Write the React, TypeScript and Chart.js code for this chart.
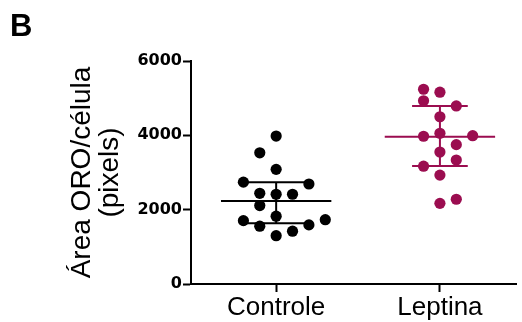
import React, { useEffect, useRef } from "react";
import { Chart, registerables } from "chart.js";

Chart.register(...registerables);

const categories = ["Controle", "Leptina"];
const controleValues = [3980, 3530, 3085, 2740, 2690, 2440, 2415, 2415, 2110, 1825, 1705, 1730, 1555, 1590, 1420, 1300];
const controleColumns = [0, -1, 0, -2, 2, -1, 0, 1, -1, 0, -2, 3, -1, 2, 1, 0];
const leptinaValues = [5240, 5160, 4930, 4790, 4500, 3975, 4054, 3990, 3750, 3550, 3336, 3170, 2930, 2280, 2170];
const leptinaColumns = [-1, 0, -1, 1, 0, -1, 0, 2, 1, 0, 1, -1, 0, 1, 0];
const means = [2233, 3964];
const upperBars = [2736, 4789];
const lowerBars = [1633, 3175];
const yTicks = [0, 2000, 4000, 6000];

const colors = ["#000000", "#9b0d50"];
const COL_STEP = 0.1;
const MEAN_HALF = 0.337;
const CAP_HALF = [0.2, 0.17];

const panelLabel = {
  id: "panelLabel",
  afterDraw(chart: any) {
    const ctx = chart.ctx;
    ctx.save();
    ctx.font = "bold 31px 'Liberation Sans', Arial, sans-serif";
    ctx.fillStyle = "#000";
    ctx.textBaseline = "alphabetic";
    ctx.textAlign = "left";
    ctx.fillText("B", 10, 36);
    ctx.restore();
  },
};

export default function App() {
  const ref = useRef<HTMLCanvasElement | null>(null);
  useEffect(() => {
    document.body.style.margin = "0";
    const groups = [
      { values: controleValues, cols: controleColumns },
      { values: leptinaValues, cols: leptinaColumns },
    ];
    const pointSets = groups.map((g, i) => ({
      type: "scatter" as const,
      data: g.values.map((v, k) => ({ x: i + 1 + g.cols[k] * COL_STEP, y: v })),
      backgroundColor: colors[i],
      borderWidth: 0,
      pointRadius: 5.6,
      order: 1,
    }));
    const barSets = categories.map((_, i) => {
      const c = i + 1;
      return {
        type: "line" as const,
        data: [
          { x: c - MEAN_HALF, y: means[i] },
          { x: c + MEAN_HALF, y: means[i] },
          { x: c, y: null },
          { x: c - CAP_HALF[i], y: upperBars[i] },
          { x: c + CAP_HALF[i], y: upperBars[i] },
          { x: c + CAP_HALF[i] + 0.01, y: null },
          { x: c - CAP_HALF[i], y: lowerBars[i] },
          { x: c + CAP_HALF[i], y: lowerBars[i] },
          { x: c + CAP_HALF[i] + 0.02, y: null },
          { x: c, y: lowerBars[i] },
          { x: c, y: upperBars[i] },
        ],
        borderColor: colors[i],
        borderWidth: 2,
        pointRadius: 0,
        showLine: true,
        spanGaps: false,
        fill: false,
        order: 2,
      };
    });
    const chart = new Chart(ref.current as HTMLCanvasElement, {
      type: "scatter",
      data: { datasets: [...barSets, ...pointSets] as any },
      plugins: [panelLabel],
      options: {
        responsive: false,
        animation: false,
        layout: { padding: { top: 61, left: 0, right: 0, bottom: 0 } },
        plugins: { legend: { display: false }, tooltip: { enabled: false } },
        scales: {
          x: {
            type: "linear",
            min: 0.48,
            max: 2.467,
            afterBuildTicks: (scale: any) => {
              scale.ticks = categories.map((_, i) => ({ value: i + 1 }));
            },
            afterFit: (scale: any) => {
              scale.height = 38;
            },
            ticks: {
              callback: (v: any) => categories[Math.round(v) - 1] ?? "",
              color: "#000",
              padding: 0,
              font: { family: "'Liberation Sans', Arial, sans-serif", size: 26 },
              maxRotation: 0,
              autoSkip: false,
            },
            grid: {
              drawOnChartArea: false,
              drawTicks: true,
              tickLength: 8,
              tickWidth: 2,
              tickColor: "#000",
            },
            border: { display: true, color: "#000", width: 2 },
          },
          y: {
            type: "linear",
            min: 0,
            max: 6000,
            afterBuildTicks: (scale: any) => {
              scale.ticks = yTicks.map((v) => ({ value: v }));
            },
            afterFit: (scale: any) => {
              scale.width = 191;
            },
            ticks: {
              callback: (v: any) => String(v),
              color: "#000",
              padding: 1,
              font: { family: "'DejaVu Sans', sans-serif", size: 16, weight: "bold" },
            },
            grid: {
              drawOnChartArea: false,
              drawTicks: true,
              tickLength: 8,
              tickWidth: 2,
              tickColor: "#000",
            },
            border: { display: true, color: "#000", width: 2 },
            title: {
              display: true,
              text: ["Área ORO/célula", "(pixels)"],
              color: "#000",
              font: { family: "'Liberation Sans', Arial, sans-serif", size: 28, lineHeight: 1.0 },
              padding: { top: 68, bottom: 0 },
            },
          },
        },
      },
    } as any);
    return () => chart.destroy();
  }, []);
  return (
    <canvas
      ref={ref}
      width={522}
      height={322}
      style={{ position: "absolute", left: 0, top: 0, display: "block", width: 522, height: 322 }}
    />
  );
}
